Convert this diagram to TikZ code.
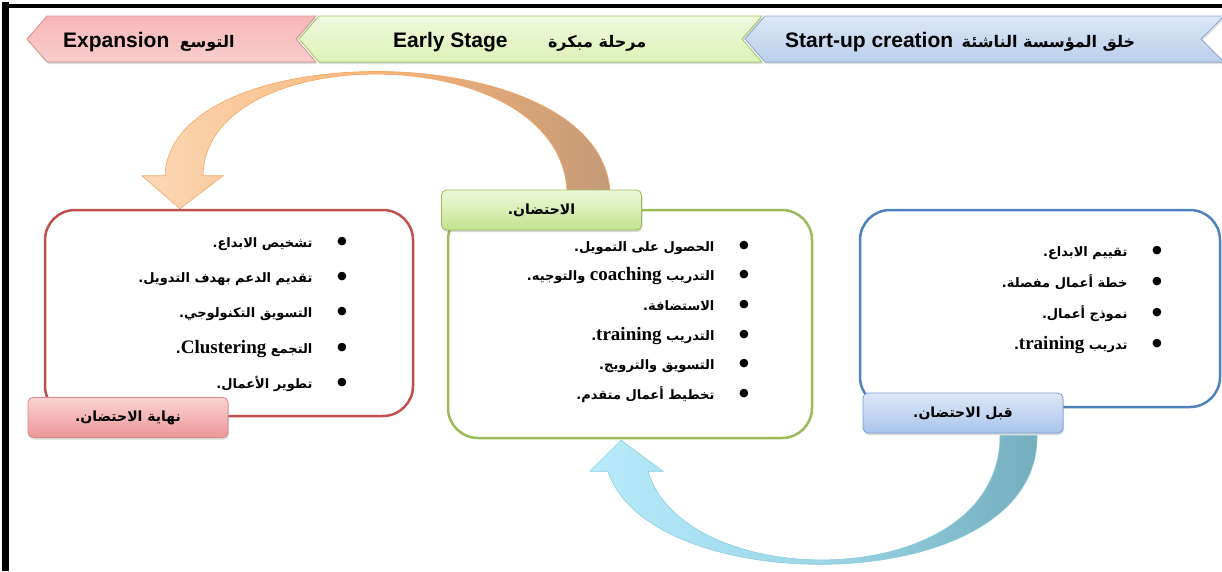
\documentclass[tikz,border=0pt]{standalone}
\usepackage{fontspec}
\setmainfont{Liberation Serif}
\newfontfamily\arfont[Script=Arabic]{DejaVu Sans}
\newfontfamily\latsans{Liberation Sans}
\TeXXeTstate=1
\usetikzlibrary{calc, positioning, shadows, backgrounds}
\definecolor{postline}{HTML}{C0504D}
\definecolor{incline}{HTML}{9BBB59}
\definecolor{preline}{HTML}{4F81BD}
\definecolor{exptop}{HTML}{F6B7B7}
\definecolor{expbot}{HTML}{F9CDCD}
\definecolor{expedge}{HTML}{D99694}
\definecolor{earlytop}{HTML}{F0F9DE}
\definecolor{earlybot}{HTML}{DDF1B6}
\definecolor{earlyedge}{HTML}{A6CC6A}
\definecolor{starttop}{HTML}{DDE7F6}
\definecolor{startbot}{HTML}{BACFEC}
\definecolor{startedge}{HTML}{8EAADB}
\definecolor{posttop}{HTML}{FAD2D2}
\definecolor{postbot}{HTML}{EE9797}
\definecolor{postedge}{HTML}{D58A8A}
\definecolor{inctop}{HTML}{EEF8DA}
\definecolor{incbot}{HTML}{C4E28E}
\definecolor{pretop}{HTML}{DEE8F8}
\definecolor{prebot}{HTML}{A9C4EC}
\definecolor{preedge}{HTML}{7B9ED4}
\definecolor{orleft}{HTML}{FCD8B6}
\definecolor{ormid}{HTML}{F8B57A}
\definecolor{orright}{HTML}{C49A78}
\definecolor{oredge}{HTML}{F5A462}
\definecolor{blleft}{HTML}{B8EBFB}
\definecolor{blmid}{HTML}{9CD6E8}
\definecolor{blright}{HTML}{74ADBD}
\definecolor{bledge}{HTML}{8CCDE0}
\newcommand{\ar}[1]{{\arfont\bfseries\beginR #1\endR}}
\newcommand{\lat}[1]{\beginL{\rmfamily\bfseries\fontsize{19}{19}\selectfont #1}\endL}
\newcommand{\bul}[1]{\beginR\raisebox{-3pt}{\fontsize{24}{24}\selectfont •}\hspace{22pt}#1\endR}
\newcommand{\listfont}[1]{\arfont\bfseries\fontsize{13}{#1}\selectfont}
\tikzstyle{stagebox} = [rectangle, rounded corners=30pt, line width=2.5pt, fill=white]
\tikzstyle{stagetag} = [rectangle, rounded corners=5pt, line width=0.8pt, minimum width=200pt, minimum height=40pt, font=\arfont\bfseries\fontsize{14}{16}\selectfont, drop shadow={opacity=0.3, shadow xshift=1pt, shadow yshift=-2pt}]
\tikzstyle{banner} = [line width=0.8pt, drop shadow={opacity=0.25, shadow xshift=1pt, shadow yshift=-2pt}]
\tikzstyle{bantext} = [inner sep=0pt, font=\latsans\bfseries\fontsize{21}{21}\selectfont]
\tikzstyle{banar} = [inner sep=0pt, font=\arfont\bfseries\fontsize{16}{16}\selectfont]
\tikzstyle{itemlist} = [align=right, inner sep=0pt]
\tikzstyle{orangearrow} = [draw=oredge, line width=0.6pt, left color=orleft, right color=orright, middle color=ormid]
\tikzstyle{bluearrow} = [draw=bledge, line width=0.6pt, left color=blleft, right color=blright, middle color=blmid]
\begin{document}
\begin{tikzpicture}[x=1pt, y=-1pt, node distance=10pt]
    \useasboundingbox (0,0) rectangle (1222,571);
    % Frame
    \draw[line width=7pt] (5.5,2) -- (5.5,571);
    \draw[line width=4pt] (2,6) -- (1222,6);

    % Banners
    \filldraw[banner, draw=expedge, top color=exptop, bottom color=expbot] (27,39) -- (47,16) -- (316,16) -- (296,39) -- (316,62) -- (47,62) -- cycle;
    \filldraw[banner, draw=earlyedge, top color=earlytop, bottom color=earlybot] (299,39) -- (319,16) -- (762,16) -- (742,39) -- (762,62) -- (319,62) -- cycle;
    \filldraw[banner, draw=startedge, top color=starttop, bottom color=startbot] (745,39) -- (765,16) -- (1224,16) -- (1201,39) -- (1224,62) -- (765,62) -- cycle;
    \node[bantext, anchor=base west] (expEn) at (63,47) {Expansion};
    \node[banar, base right=10pt of expEn] (expAr) {\ar{التوسع}};
    \node[bantext, anchor=base west] (earlyEn) at (393,47) {Early Stage};
    \node[banar, base right=40pt of earlyEn] (earlyAr) {\ar{مرحلة مبكرة}};
    \node[bantext, anchor=base west] (startEn) at (785,47) {Start-up creation};
    \node[banar, base right=8pt of startEn] (startAr) {\ar{خلق المؤسسة الناشئة}};

    % Stage boxes
    \node[stagebox, draw=postline, minimum width=368pt, minimum height=206pt] (postbox) at (229,313) {};
    \node[stagebox, draw=incline, minimum width=364pt, minimum height=228pt] (incbox) at (630,324) {};
    \node[stagebox, draw=preline, minimum width=360pt, minimum height=197pt] (prebox) at (1040,308.5) {};

    % Lists
    \node[itemlist, font=\listfont{35.3}, anchor=north east] (postlist) at (350,237) {%
        \bul{تشخيص الابداع.}\\
        \bul{تقديم الدعم بهدف التدويل.}\\
        \bul{التسويق التكنولوجي.}\\
        \bul{التجمع \lat{Clustering}.}\\
        \bul{تطوير الأعمال.}};
    \node[itemlist, font=\listfont{29.6}, anchor=north east] (inclist) at (752,241) {%
        \bul{الحصول على التمويل.}\\
        \bul{التدريب \lat{coaching} والتوجيه.}\\
        \bul{الاستضافة.}\\
        \bul{التدريب \lat{training}.}\\
        \bul{التسويق والترويج.}\\
        \bul{تخطيط أعمال متقدم.}};
    \node[itemlist, font=\listfont{31}, anchor=north east] (prelist) at (1165,246) {%
        \bul{تقييم الابداع.}\\
        \bul{خطة أعمال مفصلة.}\\
        \bul{نموذج أعمال.}\\
        \bul{تدريب \lat{training}.}};

    % Stage tags
    \node[stagetag, draw=postedge, top color=posttop, bottom color=postbot] (postlabel) at (128,417.5) {\ar{نهاية الاحتضان.}};
    \node[stagetag, draw=incline, top color=inctop, bottom color=incbot] (inclabel) at (541.5,210) {\ar{الاحتضان.}};
    \node[stagetag, draw=preedge, top color=pretop, bottom color=prebot] (prelabel) at (963,413) {\ar{قبل الاحتضان.}};

    % Arrows
    \begin{scope}[on background layer]
    \path[orangearrow] ($(inclabel.north)+(68.5,2)$)
        .. controls ($(inclabel.north)+(58.5,-155)$) and ($(postbox.north)+(-59,-175)$) .. ($(postbox.north)+(-64,-33)$)
        -- ($(postbox.north)+(-87,-33)$) -- ($(postbox.north)+(-49,0)$) -- ($(postbox.north)+(-6,-33)$)
        -- ($(postbox.north)+(-26,-33)$)
        .. controls ($(postbox.north)+(-24,-171)$) and ($(inclabel.north)+(18.5,-152)$) .. ($(inclabel.north)+(25.5,2)$)
        -- cycle;
    \path[bluearrow] ($(prelabel.south)+(74,2)$)
        .. controls ($(prelabel.south)+(77,167)$) and ($(incbox.south)+(20,162)$) .. ($(incbox.south)+(-22,32)$)
        -- ($(incbox.south)+(-40,32)$) -- ($(incbox.south)+(-9,1)$) -- ($(incbox.south)+(33,32)$)
        -- ($(incbox.south)+(18,32)$)
        .. controls ($(incbox.south)+(55,156)$) and ($(prelabel.south)+(37,161)$) .. ($(prelabel.south)+(37,2)$)
        -- cycle;
    \end{scope}
\end{tikzpicture}
\end{document}
